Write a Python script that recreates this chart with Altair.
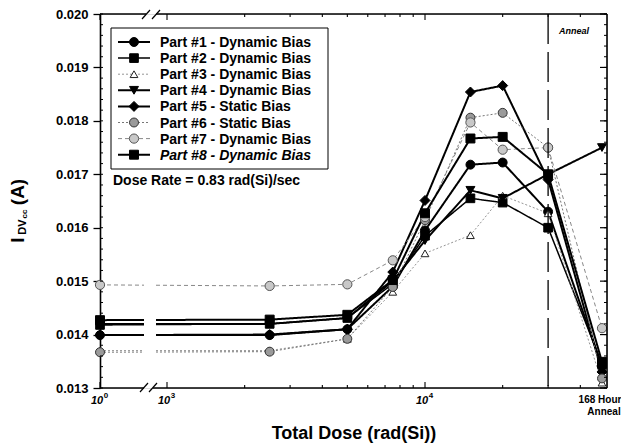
import altair as alt
import pandas as pd

# ---------------- data ----------------
doses = [1, 2500, 5000, 7500, 10000, 15000, 20000, 30000]
parts = ["Part #1 - Dynamic Bias", "Part #2 - Dynamic Bias", "Part #3 - Dynamic Bias",
         "Part #4 - Dynamic Bias", "Part #5 - Static Bias", "Part #6 - Static Bias",
         "Part #7 - Dynamic Bias", "Part #8 - Dynamic Bias"]
p1 = [0.01399, 0.01399, 0.01410, 0.01490, 0.01595, 0.01718, 0.01722, 0.01630]
p2 = [0.01418, 0.01420, 0.01431, 0.01495, 0.01585, 0.01655, 0.01647, 0.01600]
p3 = [0.01370, 0.01370, 0.01392, 0.01480, 0.01552, 0.01586, 0.01660, 0.01627]
p4 = [0.01420, 0.01420, 0.01431, 0.01500, 0.01576, 0.01670, 0.01655, 0.01700]
p5 = [0.01399, 0.01400, 0.01410, 0.01517, 0.01651, 0.01854, 0.01866, 0.01690]
p6 = [0.01367, 0.01368, 0.01392, 0.01489, 0.01614, 0.01806, 0.01815, 0.01750]
p7 = [0.01493, 0.01491, 0.01494, 0.01539, 0.01620, 0.01797, 0.01746, 0.01750]
p8 = [0.01427, 0.01428, 0.01437, 0.01502, 0.01627, 0.01767, 0.01770, 0.01700]
anneal_168h = [0.01340, 0.01345, 0.01310, 0.01750, 0.01330, 0.01318, 0.01412, 0.01349]
series = [p1, p2, p3, p4, p5, p6, p7, p8]

y_ticks = [0.013, 0.014, 0.015, 0.016, 0.017, 0.018, 0.019, 0.020]
y_minor = [round(0.013 + i * 0.0002, 4) for i in range(36)]
x_minor_doses = [2000, 3000, 4000, 5000, 6000, 7000, 8000, 9000, 20000, 30000, 40000]
x_major_doses = [1, 1000, 10000]
x_label_base = ["10", "10", "10"]
x_label_exp = ["0", "3", "4"]
anneal_label = ["168 Hour", "Anneal"]

rows = []
for name, vals, av in zip(parts, series, anneal_168h):
    for d, v in zip(doses, vals):
        rows.append({"part": name, "dose": d, "stage": "irradiation", "value": v})
    rows.append({"part": name, "dose": None, "stage": "anneal", "value": av})
df = pd.DataFrame(rows)

# ---------------- broken log axis ----------------
X_MIN, X_MAX, ANNEAL_POS = 2.7403, 4.7054, 4.686
xexpr = (f"datum.stage == 'anneal' ? {ANNEAL_POS} : "
         f"(datum.dose <= 1 ? {X_MIN} : log(datum.dose) / LN10)")
W, H = 507, 374
FONT = "Liberation Sans"

xscale = alt.Scale(domain=[X_MIN, X_MAX], nice=False, zero=False)
yscale = alt.Scale(domain=[0.013, 0.020], nice=False, zero=False)
xaxis = alt.Axis(values=[X_MIN, 3, 4], labels=False, ticks=False, domain=False, grid=False,
                 title="Total Dose (rad(Si))", titleFont=FONT,
                 titleFontSize=18, titleFontWeight="bold", titleColor="black", titlePadding=36)
yaxis = alt.Axis(values=y_ticks, format=".3f", tickSize=7, tickColor="black", tickWidth=1.3,
                 domainColor="black", domainWidth=1.6, grid=False, labelOverlap=False,
                 labelFont=FONT, labelFontSize=13, labelFontWeight="bold", labelColor="black",
                 labelPadding=5, title=None)
X = alt.X("xpos:Q", scale=xscale, axis=xaxis)
Y = alt.Y("value:Q", scale=yscale, axis=yaxis)

styles = [
    dict(shape="circle", fill="black", stroke="black", sw=2.0, dash=[1, 0], lc="black", size=80),
    dict(shape="square", fill="black", stroke="black", sw=1.5, dash=[1, 0], lc="black", size=75),
    dict(shape="triangle-up", fill="white", stroke="#222", sw=0.9, dash=[2, 2], lc="#888", size=60),
    dict(shape="triangle-down", fill="black", stroke="black", sw=2.0, dash=[1, 0], lc="black", size=80),
    dict(shape="diamond", fill="black", stroke="black", sw=2.0, dash=[1, 0], lc="black", size=100),
    dict(shape="circle", fill="#9a9a9a", stroke="#333", sw=1.0, dash=[2, 2], lc="#777", size=80),
    dict(shape="circle", fill="#c8c8c8", stroke="#555", sw=1.0, dash=[4, 3], lc="#888", size=85),
    dict(shape="square", fill="black", stroke="black", sw=2.0, dash=[1, 0], lc="black", size=80),
]

layers = []
for name, st in zip(parts, styles):
    base = alt.Chart(df[df.part == name]).transform_calculate(xpos=xexpr)
    layers.append(base.mark_line(color=st["lc"], strokeWidth=st["sw"], strokeDash=st["dash"])
                  .encode(x=X, y=Y, order="xpos:Q"))

# white gap where the axis is broken
layers.append(alt.Chart(df.head(1)).mark_rect(fill="white").encode(
    x=alt.value(44), x2=alt.value(56), y=alt.value(1), y2=alt.value(H - 1)))

for name, st in zip(parts, styles):
    base = alt.Chart(df[df.part == name]).transform_calculate(xpos=xexpr)
    layers.append(base.mark_point(shape=st["shape"], filled=True, fill=st["fill"],
                                  stroke=st["stroke"], strokeWidth=1, size=st["size"], opacity=1)
                  .encode(x=X, y=Y))

# dashed anneal boundary at 30 krad
ddf = pd.DataFrame({"dose": [30000], "stage": ["irradiation"], "value": [0.013]})
layers.append(alt.Chart(ddf).transform_calculate(xpos=xexpr)
              .mark_rule(color="black", strokeWidth=1.3, strokeDash=[30, 8]).encode(x=X))

# frame: right, top and bottom with break marks
frame = alt.Chart(df.head(1))
layers.append(frame.mark_rule(color="black", strokeWidth=1.6).encode(
    x=alt.value(W), y=alt.value(0), y2=alt.value(H)))
for (a, b) in [(0, 44), (53, W)]:
    layers.append(frame.mark_rule(color="black", strokeWidth=1.6).encode(
        x=alt.value(a), x2=alt.value(b), y=alt.value(H)))
for (a, b) in [(0, 46), (56, W)]:
    layers.append(frame.mark_rule(color="black", strokeWidth=1.6).encode(
        x=alt.value(a), x2=alt.value(b), y=alt.value(0)))
for (x1, y1, x2, y2) in [(40, H + 4, 48, H - 5), (49, H + 4, 57, H - 5),
                         (42, 5, 50, -4), (52, 5, 60, -4)]:
    layers.append(frame.mark_rule(color="black", strokeWidth=1.2).encode(
        x=alt.value(x1), y=alt.value(y1), x2=alt.value(x2), y2=alt.value(y2)))

# x ticks (inward) bottom and top
tdf_major = pd.DataFrame({"dose": x_major_doses, "stage": "irradiation", "value": 0.013,
                          "base": x_label_base, "exp": x_label_exp})
tdf_minor = pd.DataFrame({"dose": x_minor_doses, "stage": "irradiation", "value": 0.013})
for tdf, ln in [(tdf_major, 6), (tdf_minor, 3)]:
    tb = alt.Chart(tdf).transform_calculate(xpos=xexpr)
    layers.append(tb.mark_rule(color="black", strokeWidth=1.1).encode(
        x=X, y=alt.value(H), y2=alt.value(H - ln)))
    layers.append(tb.mark_rule(color="black", strokeWidth=1.1).encode(
        x=X, y=alt.value(0), y2=alt.value(ln)))

# x tick labels: 10 with superscript exponent
tlb = alt.Chart(tdf_major).transform_calculate(xpos=xexpr)
layers.append(tlb.mark_text(align="center", baseline="middle", font=FONT, fontSize=11,
                            fontWeight="bold", fontStyle="italic", color="black", dx=-3).encode(
    x=X, y=alt.value(H + 13), text="base:N"))
layers.append(tlb.mark_text(align="center", baseline="middle", font=FONT, fontSize=8,
                            fontWeight="bold", color="black", dx=6).encode(
    x=X, y=alt.value(H + 8), text="exp:N"))
adf = pd.DataFrame({"dose": [None, None], "stage": ["anneal", "anneal"], "value": [0.013, 0.013],
                    "label": anneal_label, "row": [0, 1]})
ab = alt.Chart(adf).transform_calculate(xpos=xexpr)
for r, yy, dx in [(0, H + 12, -2), (1, H + 24, 2)]:
    layers.append(ab.transform_filter(f"datum.row == {r}").mark_text(
        align="center", baseline="middle", font=FONT, fontSize=10, fontWeight="bold",
        color="black", dx=dx).encode(x=X, y=alt.value(yy), text="label:N"))

# y ticks inward left (minor) and right
ymdf = pd.DataFrame({"value": y_minor})
ymb = alt.Chart(ymdf)
layers.append(ymb.mark_rule(color="black", strokeWidth=1).encode(
    y=Y, x=alt.value(0), x2=alt.value(3)))
layers.append(ymb.mark_rule(color="black", strokeWidth=1).encode(
    y=Y, x=alt.value(W - 3), x2=alt.value(W)))
layers.append(alt.Chart(pd.DataFrame({"value": y_ticks})).mark_rule(color="black", strokeWidth=1.2)
              .encode(y=Y, x=alt.value(W - 7), x2=alt.value(W)))

# legend box
leg = alt.Chart(df.head(1))
layers.append(leg.mark_rect(fill="white", stroke="black", strokeWidth=1).encode(
    x=alt.value(11), x2=alt.value(228), y=alt.value(14), y2=alt.value(155)))
for i, (name, st) in enumerate(zip(parts, styles)):
    ly = 28 + i * 16.1
    layers.append(leg.mark_rule(color=st["lc"], strokeWidth=st["sw"], strokeDash=st["dash"]).encode(
        x=alt.value(18), x2=alt.value(50), y=alt.value(ly)))
    layers.append(leg.mark_point(shape=st["shape"], filled=True, fill=st["fill"], stroke=st["stroke"],
                                 strokeWidth=1, size=st["size"], opacity=1).encode(
        x=alt.value(34), y=alt.value(ly)))
    layers.append(leg.mark_text(text=name, align="left", baseline="middle", font=FONT, fontSize=14,
                                fontWeight="bold", fontStyle="italic" if i == 7 else "normal",
                                color="black").encode(x=alt.value(60), y=alt.value(ly + 1)))

layers.append(leg.mark_text(text="Dose Rate = 0.83 rad(Si)/sec", align="left", baseline="middle",
                            font=FONT, fontSize=14, fontWeight="bold", color="black").encode(
    x=alt.value(13), y=alt.value(167)))
layers.append(leg.mark_text(text="Anneal", align="left", baseline="middle", font=FONT, fontSize=9,
                            fontWeight="bold", fontStyle="italic", color="black").encode(
    x=alt.value(459), y=alt.value(17)))

# y title with subscripts
for txt, size, xo, yo in [("I", 19, -82, 226), ("DV", 11, -77, 213), ("cc", 8, -75, 200),
                          ("(A)", 19, -82, 178)]:
    layers.append(leg.mark_text(text=txt, angle=270, align="center", baseline="middle", font=FONT,
                                fontSize=size, fontWeight="bold", color="black").encode(
        x=alt.value(xo), y=alt.value(yo)))

chart = alt.layer(*layers).properties(
    width=W, height=H, autosize=alt.AutoSizeParams(type="none"),
    padding={"left": 92, "top": 6, "right": 14, "bottom": 60},
).configure_view(stroke=None).configure(background="white")

chart.save("out.html", embed_options={"renderer": "svg", "actions": False})
